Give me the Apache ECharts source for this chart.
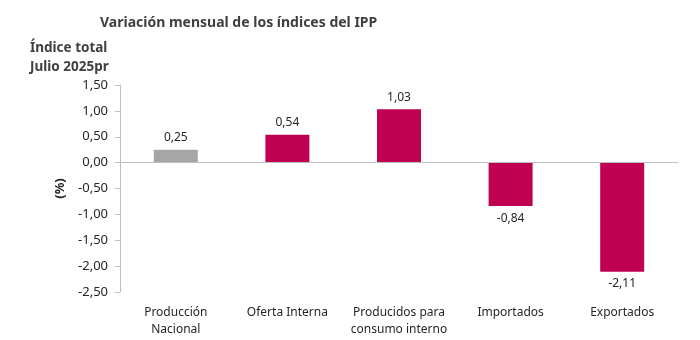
<!DOCTYPE html>
<html><head><meta charset="utf-8">
<script src="https://cdn.jsdelivr.net/npm/echarts@6/dist/echarts.min.js"></script>
<style>html,body{margin:0;padding:0;background:#fff}#c{width:700px;height:340px}</style>
</head><body><div id="c"></div>
<script>
const categories = ['Producción\nNacional', 'Oferta Interna', 'Producidos para\nconsumo interno', 'Importados', 'Exportados'];
const values = [0.25, 0.54, 1.03, -0.84, -2.11];
const barColors = ['#A6A6A6', '#C00050', '#C00050', '#C00050', '#C00050'];
const fmt = v => v.toFixed(2).replace('.', ',');
const FONT = '"Noto Sans", "Open Sans", sans-serif';
const chart = echarts.init(document.getElementById('c'));
chart.setOption({
  animation: false,
  textStyle: { fontFamily: FONT },
  title: [
    { text: 'Variación mensual de los índices del IPP', left: 95, top: 11, textStyle: { fontSize: 14, fontWeight: 'bold', color: '#404040', fontFamily: FONT } },
    { text: 'Índice total\nJulio 2025pr', left: 25, top: 34, textStyle: { fontSize: 13.5, fontWeight: 'bold', color: '#404040', lineHeight: 19, fontFamily: FONT } }
  ],
  grid: { left: 120, right: 22, top: 85, bottom: 48, containLabel: false },
  xAxis: {
    type: 'category', data: categories,
    axisLine: { show: false }, axisTick: { show: false },
    axisLabel: { color: '#262626', fontSize: 12, lineHeight: 17, margin: 12, interval: 0, fontFamily: FONT }
  },
  yAxis: {
    type: 'value', min: -2.5, max: 1.5, interval: 0.5,
    name: '(%)', nameLocation: 'middle', nameGap: 44, nameRotate: 90,
    nameTextStyle: { fontWeight: 'bold', fontSize: 13, color: '#262626', fontFamily: FONT },
    axisLine: { show: true, lineStyle: { color: '#BFBFBF' } },
    axisTick: { show: true, inside: false, length: 5, lineStyle: { color: '#BFBFBF' } },
    splitLine: { show: false },
    axisLabel: { color: '#262626', fontSize: 13, margin: 12, formatter: v => fmt(v), fontFamily: FONT }
  },
  series: [{
    type: 'bar', barWidth: 44,
    data: values.map((v, i) => ({ value: v, itemStyle: { color: barColors[i] } })),
    label: { show: true, position: 'outside', color: '#262626', fontSize: 12, distance: 6, formatter: p => fmt(p.value), fontFamily: FONT },
    markLine: {
      silent: true, symbol: 'none', label: { show: false },
      lineStyle: { color: '#BFBFBF', type: 'solid', width: 1 },
      data: [{ yAxis: 0 }]
    }
  }]
});
</script></body></html>
